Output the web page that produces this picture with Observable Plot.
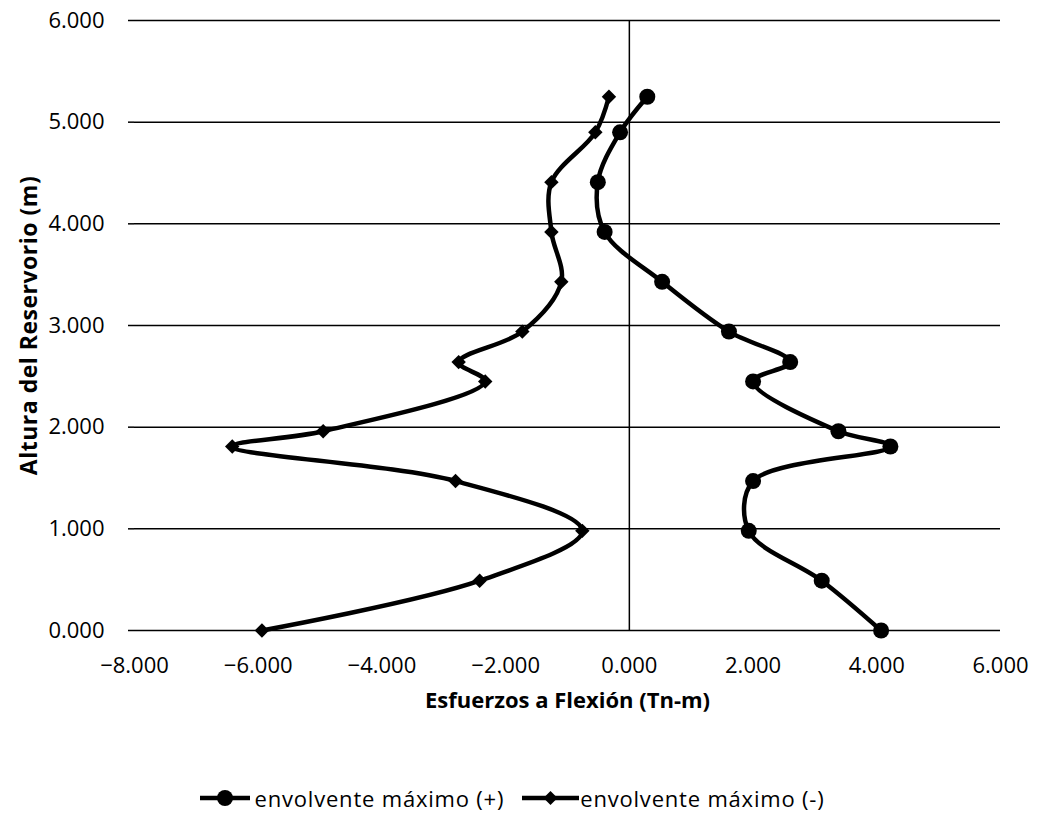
<!DOCTYPE html>
<html>
<head>
<meta charset="utf-8">
<script src="https://cdn.jsdelivr.net/npm/d3@7"></script>
<script src="https://cdn.jsdelivr.net/npm/@observablehq/plot@0.6"></script>
<style>
  body { margin: 0; background: #fff; font-family: "Open Sans", sans-serif; }
  #chart svg { display: block; }
  g[aria-label="x-axis label"] text { font-weight: bold; font-size: 22px; }
  g[aria-label="y-axis label"] text { font-weight: bold; font-size: 23px; letter-spacing: 0.5px; }
  #legend { position: relative; height: 30px; margin-top: 38px; font-size: 22px; letter-spacing: 0.8px; color: #000; }
  #legend .item { position: absolute; top: 0; height: 30px; display: flex; align-items: center; }
  #legend svg { display: block; }
</style>
</head>
<body>
<div id="chart"></div>
<div id="legend"></div>
<script>
// Heights (m)
const heights = [0, 0.49, 0.98, 1.47, 1.81, 1.96, 2.45, 2.64, 2.94, 3.43, 3.92, 4.41, 4.90, 5.25];
// envolvente máximo (+)
const maxPos = [4.07, 3.11, 1.93, 2.00, 4.22, 3.38, 2.00, 2.60, 1.61, 0.53, -0.40, -0.51, -0.15, 0.29];
// envolvente máximo (-)
const maxNeg = [-5.94, -2.42, -0.76, -2.81, -6.42, -4.95, -2.33, -2.76, -1.73, -1.10, -1.26, -1.26, -0.55, -0.33];
const xTicks = [-8, -6, -4, -2, 0, 2, 4, 6];
const yTicks = [0, 1, 2, 3, 4, 5, 6];
const seriesNames = ["envolvente máximo (+)", "envolvente máximo (-)"];
const xTitle = "Esfuerzos a Flexión (Tn-m)";
const yTitle = "Altura del Reservorio (m)";

const pos = heights.map((h, i) => ({h, v: maxPos[i]}));
const neg = heights.map((h, i) => ({h, v: maxNeg[i]}));
const fmt = d3.format(".3f");

const chart = Plot.plot({
  width: 1037,
  height: 745,
  marginTop: 20,
  marginBottom: 115,
  marginLeft: 134,
  marginRight: 37,
  style: {fontFamily: "Open Sans, sans-serif", fontSize: "22px", color: "#000", background: "#fff"},
  x: {domain: [-8, 6]},
  y: {domain: [0, 6]},
  marks: [
    Plot.gridY(yTicks, {stroke: "#000", strokeOpacity: 1, strokeWidth: 1.5}),
    Plot.ruleX([0], {stroke: "#000", strokeWidth: 1.5}),
    Plot.axisX(xTicks, {tickSize: 0, tickPadding: 27, tickFormat: fmt, fontSize: 22, label: xTitle, labelAnchor: "center", labelArrow: "none", labelOffset: 77}),
    Plot.axisY(yTicks, {tickSize: 6, tickPadding: 24, tickFormat: fmt, fontSize: 22, label: yTitle, labelAnchor: "center", labelArrow: "none", labelOffset: 114, strokeWidth: 1.5}),
    Plot.line(pos, {x: "v", y: "h", curve: "catmull-rom", stroke: "#000", strokeWidth: 4.5}),
    Plot.line(neg, {x: "v", y: "h", curve: "catmull-rom", stroke: "#000", strokeWidth: 4.5}),
    Plot.dot(pos, {x: "v", y: "h", r: 8, fill: "#000", symbol: "circle"}),
    Plot.dot(neg, {x: "v", y: "h", r: 6.5, fill: "#000", symbol: "diamond2"})
  ]
});
document.getElementById("chart").appendChild(chart);

// Legend (centered under the chart)
const legend = document.getElementById("legend");
const markers = ["circle", "diamond"];
const ns = "http://www.w3.org/2000/svg";
const items = seriesNames.map((name, i) => {
  const item = document.createElement("div");
  item.className = "item";
  const w = i === 0 ? 50 : 57;
  const svg = document.createElementNS(ns, "svg");
  svg.setAttribute("width", w); svg.setAttribute("height", 24);
  svg.style.marginRight = (i === 0 ? 5 : 1) + "px";
  const line = document.createElementNS(ns, "line");
  line.setAttribute("x1", 0); line.setAttribute("x2", w); line.setAttribute("y1", 12); line.setAttribute("y2", 12);
  line.setAttribute("stroke", "#000"); line.setAttribute("stroke-width", 4.5);
  svg.appendChild(line);
  const cx = w / 2;
  if (markers[i] === "circle") {
    const c = document.createElementNS(ns, "circle");
    c.setAttribute("cx", cx); c.setAttribute("cy", 12); c.setAttribute("r", 8); c.setAttribute("fill", "#000");
    svg.appendChild(c);
  } else {
    const p = document.createElementNS(ns, "path");
    p.setAttribute("d", `M${cx},5L${cx + 7},12L${cx},19L${cx - 7},12Z`); p.setAttribute("fill", "#000");
    svg.appendChild(p);
  }
  item.appendChild(svg);
  const span = document.createElement("span");
  span.textContent = name;
  item.appendChild(span);
  legend.appendChild(item);
  return item;
});
const gap = 18;
const total = items.reduce((s, it) => s + it.getBoundingClientRect().width, 0) + gap;
let left = 512 - total / 2;
items.forEach(it => { it.style.left = left + "px"; left += it.getBoundingClientRect().width + gap; });
</script>
</body>
</html>
